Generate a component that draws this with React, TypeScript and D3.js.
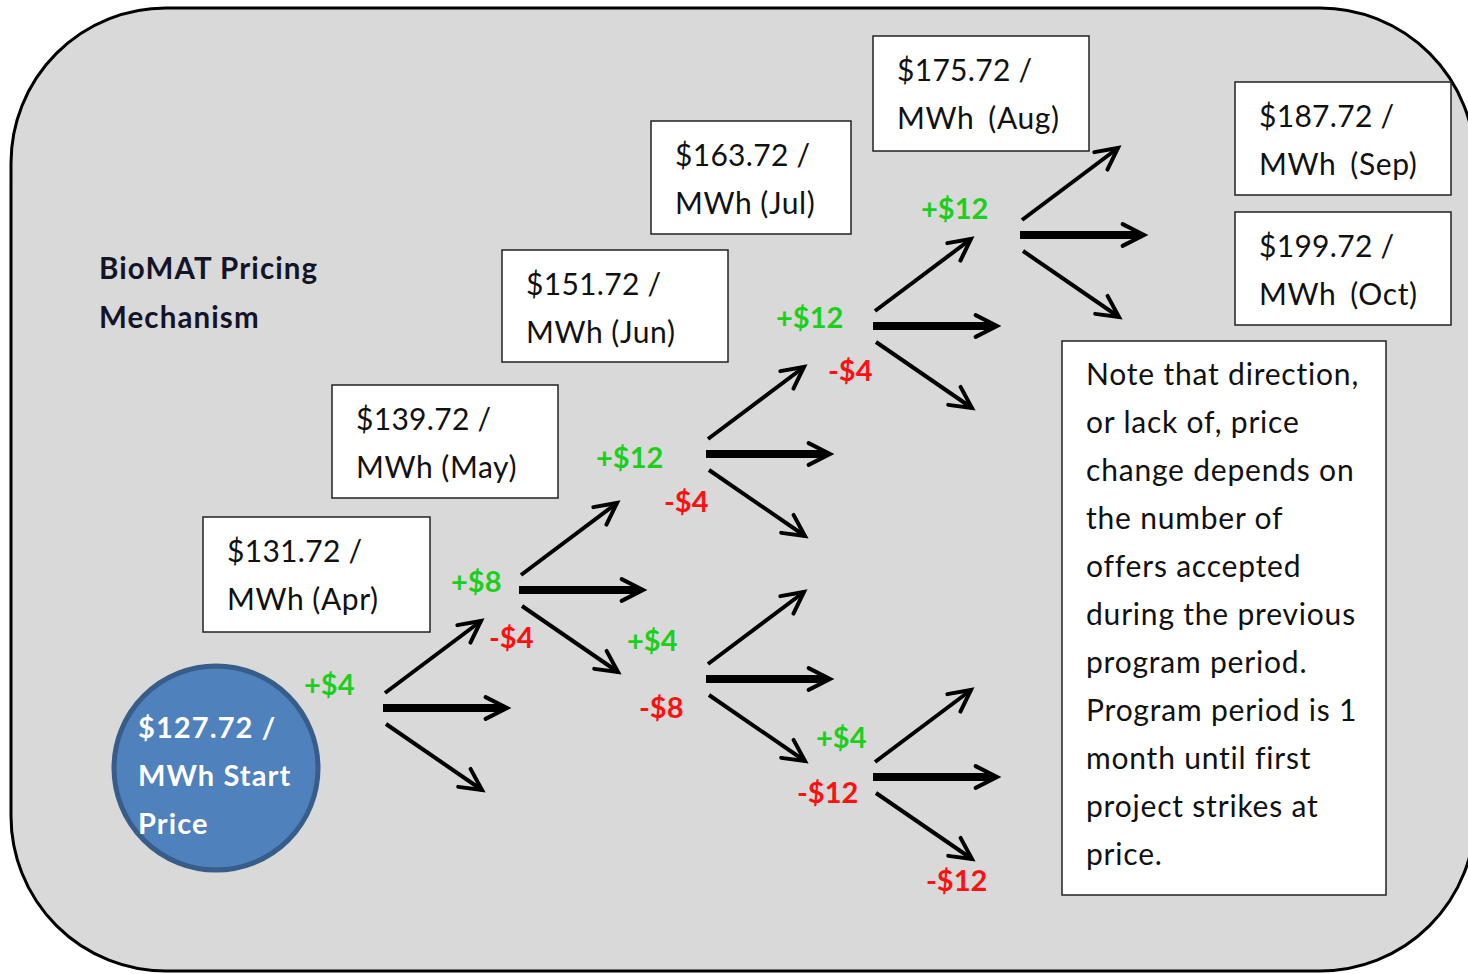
import * as d3 from "d3";

// ---- data ----
const startPrice = 127.72;
const months = ["Apr", "May", "Jun", "Jul", "Aug", "Sep", "Oct"];
const prices = [131.72, 139.72, 151.72, 163.72, 175.72, 187.72, 199.72];
const wideGap = [false, false, false, false, true, true, true]; // later boxes use a double space
const changeLabels = ["+$4", "+$8", "-$4", "+$12", "-$4", "+$4", "-$8", "+$12", "-$4", "+$12", "+$4", "-$12", "-$12"];
const titleLines = ["BioMAT Pricing", "Mechanism"];
const startLines = [`$${startPrice} /`, "MWh Start", "Price"];
const noteLines = [
  "Note that direction,",
  "or lack of, price",
  "change depends on",
  "the number of",
  "offers accepted",
  "during the previous",
  "program period.",
  "Program period is 1",
  "month until first",
  "project strikes at",
  "price.",
];

// ---- layout ----
const W = 1468;
const H = 974;
const boxLayout = [
  [203, 517, 227, 115],
  [332, 385, 226, 113],
  [502, 250, 226, 112],
  [651, 121, 200, 113],
  [873, 36, 216, 115],
  [1235, 82, 216, 113],
  [1235, 212, 216, 113],
];
const labelLayout = [
  [304, 695], [451, 592], [489, 648], [596, 468], [664, 512], [627, 651], [639, 718],
  [776, 328], [828, 381], [921, 219], [816, 748], [797, 803], [926, 891],
];
const fanOrigins = [
  [383, 708], [519, 590], [706, 454], [873, 326], [1020, 235], [706, 679], [873, 777],
];
const fanArms = [
  { from: [2, -15], to: [98, -87], width: 4 },
  { from: [0, 0], to: [124, 0], width: 8 },
  { from: [3, 16], to: [99, 82], width: 4 },
];

const FONT = "Lato, 'Open Sans', sans-serif";
const GREEN = "#1ccf1c";
const RED = "#ff1010";
const noLig = { fontVariantLigatures: "none" as const };

function linePath(x0: number, y0: number, x1: number, y1: number) {
  const p = d3.path();
  p.moveTo(x0, y0);
  p.lineTo(x1, y1);
  return p.toString();
}

function headPath(x0: number, y0: number, x1: number, y1: number) {
  const a = Math.atan2(y1 - y0, x1 - x0);
  const len = 24;
  const th = (27 * Math.PI) / 180;
  const p = d3.path();
  p.moveTo(x1 - len * Math.cos(a - th), y1 - len * Math.sin(a - th));
  p.lineTo(x1, y1);
  p.lineTo(x1 - len * Math.cos(a + th), y1 - len * Math.sin(a + th));
  return p.toString();
}

export default function App() {
  return (
    <div style={{ position: "absolute", left: 0, top: 0 }}>
      <svg width={W} height={H} style={{ display: "block", background: "#fff" }}>
        <rect x={11} y={8} width={1464} height={963} rx={155} ry={155} fill="#d9d9d9" stroke="#000" strokeWidth={3} />

        {/* title */}
        {titleLines.map((t, i) => (
          <text key={t} x={99} y={279 + i * 49} fontFamily={FONT} fontWeight={700} fontSize={29.5}
            letterSpacing={1.1} fill="#141428" style={noLig}>
            {t}
          </text>
        ))}

        {/* start circle */}
        <circle cx={216} cy={768} r={102} fill="#4f81bd" stroke="#385d8a" strokeWidth={5} />
        {startLines.map((t, i) => (
          <text key={t} x={138} y={738 + i * 48} fontFamily={FONT} fontWeight={700} fontSize={29}
            letterSpacing={1.1} fill="#fff">
            {t}
          </text>
        ))}

        {/* price boxes */}
        {prices.map((p, i) => {
          const [x, y, w, h] = boxLayout[i];
          return (
            <g key={months[i]}>
              <rect x={x} y={y} width={w} height={h} fill="#fff" stroke="#222" strokeWidth={1.5} />
              <text x={x + 24} y={y + 45} fontFamily={FONT} fontSize={30} letterSpacing={0.3} fill="#111">
                {`$${p.toFixed(2)} /`}
              </text>
              <text x={x + 24} y={y + 93} fontFamily={FONT} fontSize={30} letterSpacing={0.6} fill="#111">
                MWh
                <tspan dx={wideGap[i] ? 14 : 8}>{`(${months[i]})`}</tspan>
              </text>
            </g>
          );
        })}

        {/* arrows */}
        {fanOrigins.map(([ox, oy], fi) => (
          <g key={fi} stroke="#000" fill="none">
            {fanArms.map((arm, ai) => {
              const x0 = ox + arm.from[0];
              const y0 = oy + arm.from[1];
              const x1 = ox + arm.to[0];
              const y1 = oy + arm.to[1];
              return (
                <g key={ai}>
                  <path d={linePath(x0, y0, x1 - (ai === 1 ? 4 : 0), y1)} strokeWidth={arm.width} />
                  <path d={headPath(x0, y0, x1, y1)} strokeWidth={4} strokeLinecap="round" />
                </g>
              );
            })}
          </g>
        ))}

        {/* change labels */}
        {changeLabels.map((t, i) => (
          <text
            key={i}
            x={labelLayout[i][0]}
            y={labelLayout[i][1]}
            fontFamily={FONT}
            fontWeight={700}
            fontSize={29}
            fill={t.startsWith("+") ? GREEN : RED}
          >
            {t}
          </text>
        ))}

        {/* note */}
        <rect x={1062} y={341} width={324} height={554} fill="#fff" stroke="#222" strokeWidth={1.5} />
        {noteLines.map((t, i) => (
          <text key={i} x={1086} y={385 + i * 48} fontFamily={FONT} fontSize={30} letterSpacing={0.8}
            fill="#111" style={noLig}>
            {t}
          </text>
        ))}
      </svg>
    </div>
  );
}
